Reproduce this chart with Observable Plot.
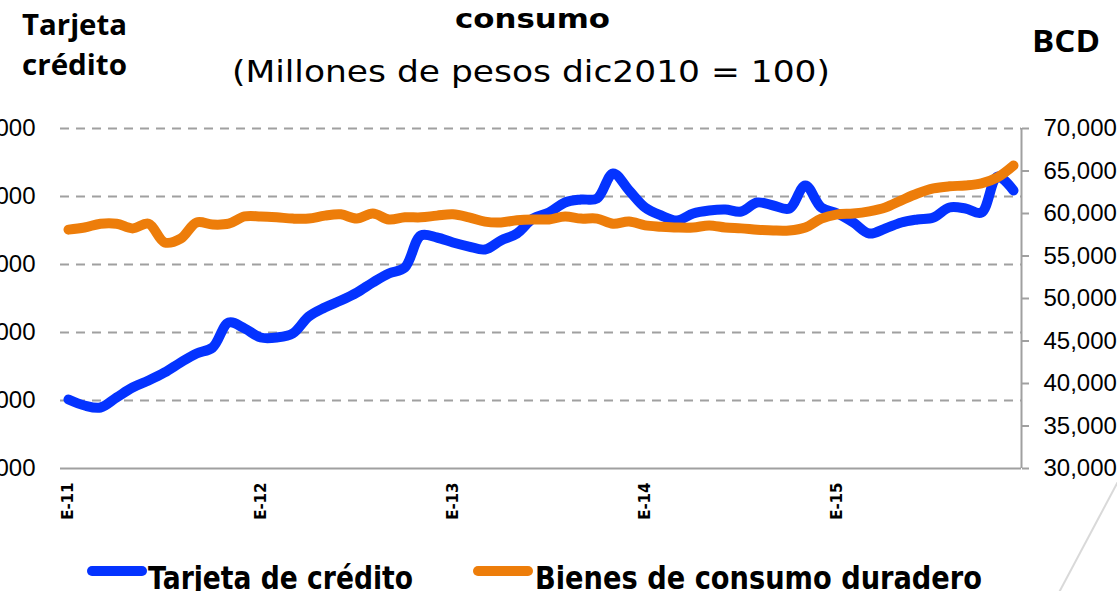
<!DOCTYPE html>
<html>
<head>
<meta charset="utf-8">
<script src="https://cdn.jsdelivr.net/npm/d3@7"></script>
<script src="https://cdn.jsdelivr.net/npm/@observablehq/plot@0.6"></script>
<style>
  html, body { margin: 0; padding: 0; background: #fff; }
  #wrap { position: relative; width: 1117px; height: 591px; overflow: hidden; background: #fff; }
  #chart { position: absolute; left: 0; top: 100px; }
  #overlay { position: absolute; left: 0; top: 0; pointer-events: none; }
</style>
</head>
<body>
<div id="wrap">
  <div id="chart"></div>
  <svg id="overlay" width="1117" height="591"></svg>
</div>
<script>
// ---- data ----
const anios = ["11", "12", "13", "14", "15"];
const letrasMes = ["E", "F", "M", "A", "M", "J", "J", "A", "S", "O", "N", "D"];
const meses = anios.flatMap(a => letrasMes.map(m => `${m}-${a}`));

// Tarjeta de crédito (millones de pesos, eje izquierdo)
const tarjeta = [
  10030000, 9853000, 9794000, 10088000, 10382000, 10588000, 10824000, 11118000, 11382000, 11559000,
  12294000, 12118000, 11853000, 11853000, 11971000, 12471000, 12735000, 12941000, 13176000, 13471000,
  13735000, 13912000, 14853000, 14794000, 14647000, 14529000, 14441000, 14706000, 14912000, 15353000,
  15529000, 15824000, 15912000, 15941000, 16676000, 16176000, 15676000, 15441000, 15294000, 15500000,
  15588000, 15618000, 15559000, 15824000, 15735000, 15647000, 16324000, 15676000, 15500000, 15235000,
  14912000, 15059000, 15235000, 15324000, 15382000, 15676000, 15647000, 15529000, 16588000, 16176000
];
// Bienes de consumo duradero (BCD, eje derecho)
const bcd = [
  58100, 58350, 58800, 58800, 58250, 58800, 56600, 57050, 58950, 58700,
  58800, 59650, 59650, 59550, 59400, 59400, 59750, 59900, 59400, 60000,
  59300, 59550, 59550, 59750, 59900, 59550, 59050, 58950, 59200, 59300,
  59300, 59650, 59400, 59400, 58800, 59050, 58600, 58450, 58350, 58350,
  58600, 58350, 58250, 58100, 58000, 58000, 58350, 59400, 59900, 60000,
  60250, 60700, 61550, 62350, 62950, 63200, 63300, 63550, 64250, 65650
];
const ticksIzq = [8000000, 10000000, 12000000, 14000000, 16000000, 18000000];
const ticksDer = [30000, 35000, 40000, 45000, 50000, 55000, 60000, 65000, 70000];
const etiquetasX = ["E-11", "E-12", "E-13", "E-14", "E-15"];
const series = ["Tarjeta de crédito", "Bienes de consumo duradero"];
const colores = ["#0433ff", "#ed7d0a"];

// ---- scales helpers (left axis mapped onto right axis domain) ----
const L0 = ticksIzq[0], L1 = ticksIzq[ticksIzq.length - 1];
const R0 = ticksDer[0], R1 = ticksDer[ticksDer.length - 1];
const toR = v => R0 + (v - L0) / (L1 - L0) * (R1 - R0);
const fromR = r => L0 + (r - R0) / (R1 - R0) * (L1 - L0);
const fmt = d3.format(",");

const datosT = tarjeta.map((v, i) => ({ i, mes: meses[i], y: toR(v) }));
const datosB = bcd.map((v, i) => ({ i, mes: meses[i], y: v }));
const xTickIdx = etiquetasX.map(l => meses.indexOf(l));

const chart = Plot.plot({
  width: 1117,
  height: 440,
  marginLeft: 60,
  marginRight: 96,
  marginTop: 28,
  marginBottom: 72,
  style: { fontFamily: "'Liberation Sans', Arial, sans-serif", fontSize: "24px", color: "#000", background: "transparent", overflow: "visible" },
  x: { type: "linear", domain: [-0.5, meses.length - 0.5], axis: null },
  y: { domain: [R0, R1], axis: null },
  marks: [
    Plot.ruleY(ticksIzq.slice(1).map(toR), { stroke: "#a0a0a0", strokeWidth: 2, strokeDasharray: "9,7" }),
    Plot.ruleY([R0], { stroke: "#a0a0a0", strokeWidth: 2 }),
    Plot.ruleX([meses.length - 0.5], { y1: R0, y2: R1, stroke: "#a0a0a0", strokeWidth: 2 }),
    Plot.axisY(ticksDer, { anchor: "right", label: null, tickSize: 7, tickPadding: 15, stroke: "#a0a0a0", strokeWidth: 2, tickFormat: fmt, fontSize: 24 }),
    Plot.axisY(ticksIzq.map(toR), { anchor: "left", label: null, tickSize: 0, tickPadding: 25, tickFormat: d => fmt(Math.round(fromR(d))), fontSize: 24 }),
    Plot.axisX(xTickIdx, { anchor: "bottom", label: null, tickSize: 0, tickPadding: 14, tickRotate: -90, tickFormat: d => meses[d], fontSize: 15, fontWeight: "bold", fontFamily: "'DejaVu Sans', sans-serif" }),
    Plot.line(datosT, { x: "i", y: "y", stroke: colores[0], strokeWidth: 10, curve: "catmull-rom", strokeLinecap: "round", strokeLinejoin: "round" }),
    Plot.line(datosB, { x: "i", y: "y", stroke: colores[1], strokeWidth: 10, curve: "catmull-rom", strokeLinecap: "round", strokeLinejoin: "round" })
  ]
});
document.getElementById("chart").appendChild(chart);

// ---- titles & legend (overlay) ----
const ov = d3.select("#overlay");
function txt(str, x, y, opts) {
  const t = ov.append("text").attr("x", x).attr("y", y).text(str)
    .attr("font-family", opts.family || "'Open Sans', sans-serif")
    .attr("font-size", opts.size)
    .attr("font-weight", opts.weight || "normal")
    .attr("fill", "#000");
  if (opts.len) t.attr("textLength", opts.len).attr("lengthAdjust", "spacingAndGlyphs");
  return t;
}
txt("Tarjeta", 22, 35, { size: 28, weight: "bold", len: 105 });
txt("crédito", 22, 75, { size: 28, weight: "bold", len: 105 });
txt("BCD", 1032, 52, { size: 31, weight: "bold", len: 68 });
txt("consumo", 455, 28, { size: 26, weight: "bold", family: "'DejaVu Sans', sans-serif", len: 155 });
txt("(Millones de pesos dic2010 = 100)", 232, 82, { size: 31, family: "'DejaVu Sans', sans-serif", len: 598 });

// legend
const leg = [
  { x1: 92, x2: 142, tx: 148, len: 265 },
  { x1: 478, x2: 528, tx: 535, len: 447 }
];
leg.forEach((l, k) => {
  ov.append("line").attr("x1", l.x1).attr("x2", l.x2).attr("y1", 571).attr("y2", 571)
    .attr("stroke", colores[k]).attr("stroke-width", 10).attr("stroke-linecap", "round");
  txt(series[k], l.tx, 589, { size: 32, weight: "bold", family: "'DejaVu Sans', sans-serif", len: l.len });
});
// slide decoration
ov.append("line").attr("x1", 1122).attr("y1", 474).attr("x2", 1055).attr("y2", 600)
  .attr("stroke", "#d9d9d9").attr("stroke-width", 2);
</script>
</body>
</html>
